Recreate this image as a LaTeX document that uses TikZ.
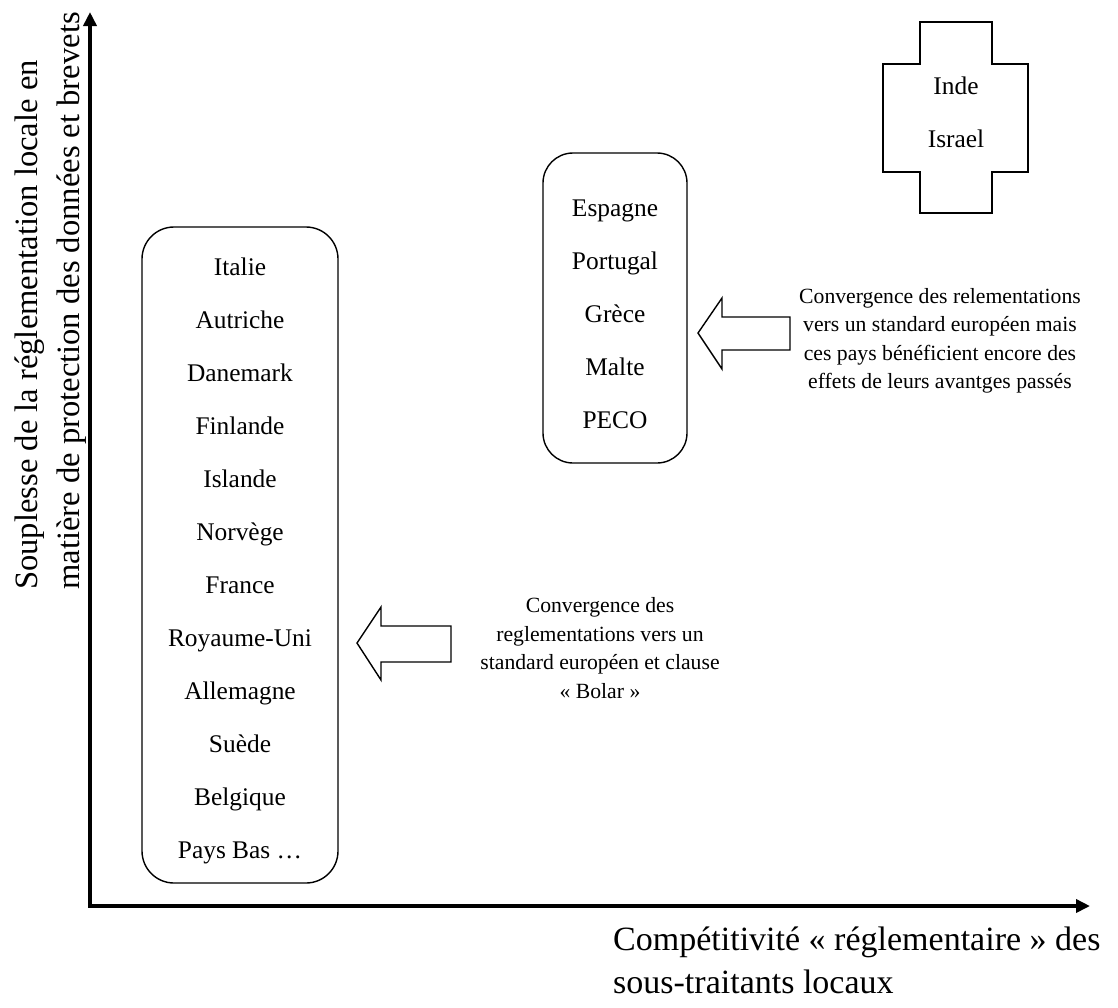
\documentclass[tikz,border=0pt]{standalone}
\usepackage{fontspec}
\setmainfont{Liberation Serif}
\usetikzlibrary{arrows.meta}
\begin{document}
\begin{tikzpicture}[
    x=1pt, y=-1pt,
    axe/.style={line width=4pt, -{Triangle[length=14pt,width=13pt]}},
    liste/.style={draw, line width=1.4pt, rounded corners=32pt, align=center, inner sep=0pt,
      font=\fontsize{25.4}{53}\selectfont},
    fleche/.style={draw, line width=1.4pt, line join=miter},
    note/.style={align=center, inner sep=0pt, font=\fontsize{21.7}{28.5}\selectfont},
    titre/.style={align=left, inner sep=0pt, font=\fontsize{33}{42}\selectfont}
  ]
    \useasboundingbox (0,0) rectangle (1118,1007);

    % Axes
    \coordinate (o) at (90,906);
    \coordinate (ytop) at (90,12);
    \coordinate (xend) at (1090,906);
    \draw[axe] ([xshift=-2pt]o) -- (xend);
    \draw[axe] ([yshift=2pt]o) -- (ytop);

    \node[titre, font=\fontsize{34}{43}\selectfont, anchor=north west] (xlab) at (613,927)
      {Compétitivité « réglementaire » des\\sous-traitants locaux};
    \node[titre, font=\fontsize{32.6}{42}\selectfont, rotate=90, anchor=west] (ylab) at (51,590)
      {Souplesse de la réglementation locale en\\matière de protection des données et brevets};

    % Listes de pays
    \node[liste, minimum width=196pt, minimum height=656pt] (europe) at (240,555)
      {\rule{0pt}{30pt}Italie\\Autriche\\Danemark\\Finlande\\Islande\\Norvège\\France\\Royaume-Uni\\Allemagne\\Suède\\Belgique\\Pays Bas …};
    \node[liste, rounded corners=30pt, minimum width=144pt, minimum height=310pt] (sud) at (615,308)
      {\rule{0pt}{30pt}Espagne\\Portugal\\Grèce\\Malte\\PECO};

    % Croix
    \node[align=center, inner sep=0pt, font=\fontsize{25.4}{53}\selectfont] (inde) at (956,112)
      {Inde\\Israel};
    \draw[line width=1.8pt] (920,22) -- (992,22) -- (992,64) -- (1028,64) -- (1028,172) -- (992,172)
      -- (992,213) -- (920,213) -- (920,172) -- (883,172) -- (883,64) -- (920,64) -- cycle;

    % Flèches
    \draw[fleche] (698,333) -- (722,298) -- (722,317) -- (790,317) -- (790,350) -- (722,350) -- (722,369) -- cycle;
    \draw[fleche] (357,643) -- (381,607) -- (381,626) -- (451,626) -- (451,662) -- (381,662) -- (381,680) -- cycle;

    \node[note] (conv1) at (940,341)
      {Convergence des relementations\\vers un standard européen mais\\ces pays bénéficient encore des\\effets de leurs avantges passés};
    \node[note] (conv2) at (600,648)
      {Convergence des\\reglementations vers un\\standard européen et clause\\« Bolar »};
  \end{tikzpicture}
\end{document}
